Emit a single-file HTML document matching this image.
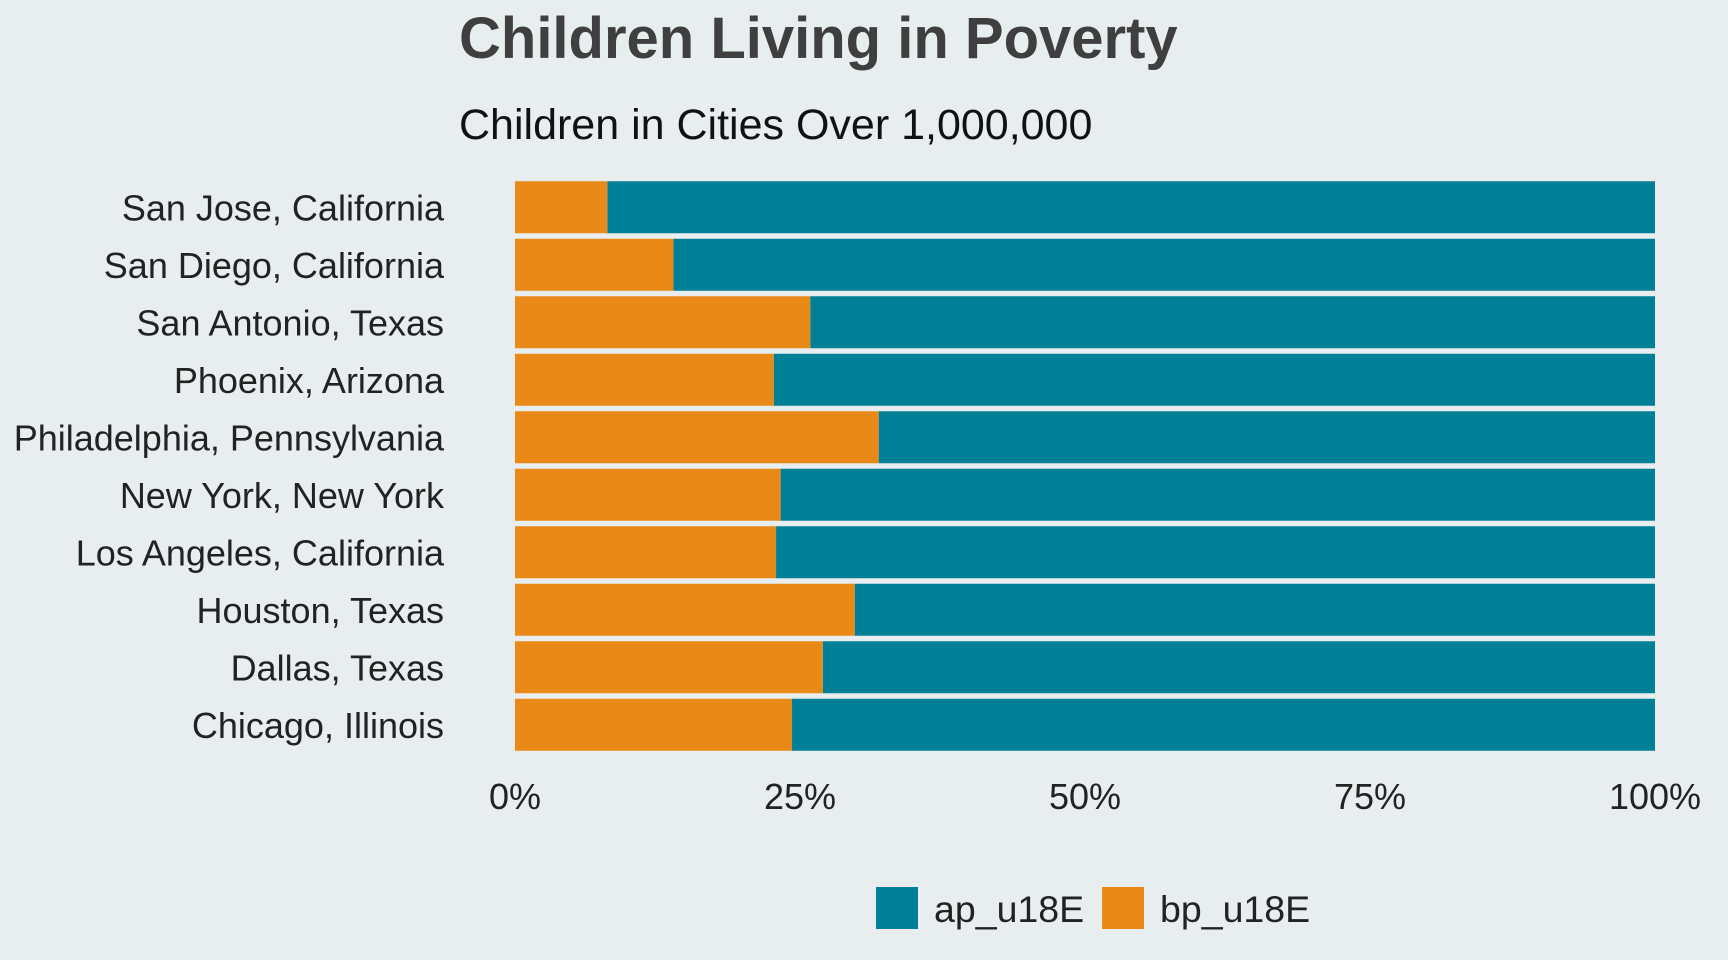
<!DOCTYPE html>
<html><head><meta charset="utf-8"><style>
html,body{margin:0;padding:0;background:#e8edef;}
svg{display:block;font-family:"Liberation Sans",Arial,sans-serif;}
</style></head><body>
<svg id="chart" width="1728" height="960" viewBox="0 0 1728 960">
<rect width="1728" height="960" fill="#e8edef"/>
<text x="459" y="58" font-size="58" font-weight="bold" fill="#3f3f3f">Children Living in Poverty</text>
<text x="459" y="139" font-size="43" fill="#111">Children in Cities Over 1,000,000</text>
<g id="bars"></g>
<g id="ylabels"></g>
<g id="xticks"></g>
<g>
<rect x="876" y="887" width="42" height="42" fill="#008096"/>
<text x="934" y="922" font-size="37.5" fill="#222">ap_u18E</text>
<rect x="1102" y="887" width="42" height="42" fill="#e98a18"/>
<text x="1160" y="922" font-size="37.5" fill="#222">bp_u18E</text>
</g>
</svg>
<script>
const cities = ["San Jose, California","San Diego, California","San Antonio, Texas","Phoenix, Arizona","Philadelphia, Pennsylvania","New York, New York","Los Angeles, California","Houston, Texas","Dallas, Texas","Chicago, Illinois"];
const bpShare = [0.081,0.139,0.259,0.227,0.319,0.233,0.229,0.298,0.270,0.243];
const tickValues = [0,0.25,0.5,0.75,1];
const tickLabels = ["0%","25%","50%","75%","100%"];

const NS="http://www.w3.org/2000/svg";
const x0=515, x1=1655, yTop=178.5, band=57.5, barH=52;
function xs(v){return x0+(x1-x0)*v;}
function ys(i){return yTop+band*i+(band-barH)/2;}
const bars=document.getElementById('bars');
const yl=document.getElementById('ylabels');
const xt=document.getElementById('xticks');
function mk(tag,attrs){const e=document.createElementNS(NS,tag);for(const k in attrs)e.setAttribute(k,attrs[k]);return e;}
cities.forEach((c,i)=>{
  const y=ys(i);
  const a=mk('rect',{x:xs(bpShare[i]),y:y,width:xs(1)-xs(bpShare[i]),height:barH,fill:'#008096'});
  
  
  bars.appendChild(a);
  const b=mk('rect',{x:xs(0),y:y,width:xs(bpShare[i])-xs(0),height:barH,fill:'#e98a18'});
  
  
  bars.appendChild(b);
  const t=mk('text',{x:444,y:y+barH/2+13,'font-size':36,fill:'#222','text-anchor':'end'});
  t.textContent=c;
  
  
  yl.appendChild(t);
});
tickValues.forEach((v,i)=>{
  const t=mk('text',{x:xs(v),y:809,'font-size':36,fill:'#222','text-anchor':'middle'});
  t.textContent=tickLabels[i];
  
  
  xt.appendChild(t);
});
</script>
</body></html>
